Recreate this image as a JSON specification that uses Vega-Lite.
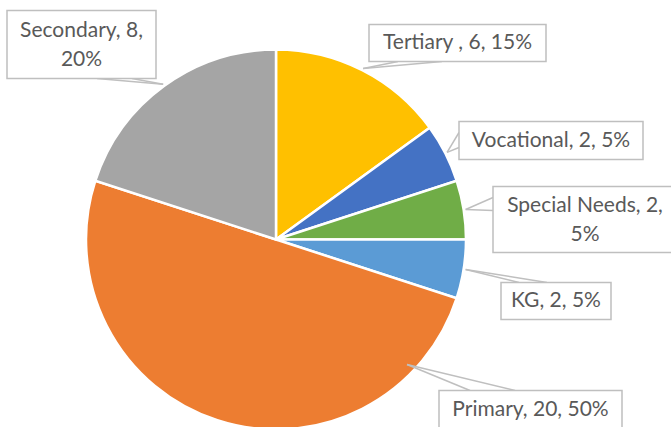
{
  "$schema": "https://vega.github.io/schema/vega-lite/v6.json",
  "width": 671,
  "height": 427,
  "autosize": {"type": "none"},
  "padding": 0,
  "background": "white",
  "config": {"view": {"stroke": null}},
  "data": {
    "values": [
      {"category": "Tertiary ", "count": 6, "label": "Tertiary , 6, 15%"},
      {"category": "Vocational", "count": 2, "label": "Vocational, 2, 5%"},
      {"category": "Special Needs", "count": 2, "label": "Special Needs, 2,\n5%"},
      {"category": "KG", "count": 2, "label": "KG, 2, 5%"},
      {"category": "Primary", "count": 20, "label": "Primary, 20, 50%"},
      {"category": "Secondary", "count": 8, "label": "Secondary, 8,\n20%"}
    ]
  },
  "transform": [
    {"window": [{"op": "row_number", "as": "i"}]},
    {"joinaggregate": [{"op": "sum", "field": "count", "as": "total"}]},
    {"window": [{"op": "sum", "field": "count", "as": "cum"}], "sort": [{"field": "i"}], "frame": [null, 0]},
    {"calculate": "2*PI*(datum.cum - datum.count/2)/datum.total", "as": "mid"},
    {"calculate": "datum.i == 5 ? 131 : 192*sin(datum.mid)", "as": "tx"},
    {"calculate": "datum.i == 5 ? 125 : -192*cos(datum.mid)", "as": "ty"},
    {"calculate": "[93,183,217,225,163,-269][datum.i-1]", "as": "bx0"},
    {"calculate": "[270,367,401,335,346,-120][datum.i-1]", "as": "bx1"},
    {"calculate": "[-215,-118,-53,43,151,-229][datum.i-1]", "as": "by0"},
    {"calculate": "[-178,-80,13,80,190,-161][datum.i-1]", "as": "by1"},
    {"calculate": "[122,183,217,243,194,-179][datum.i-1]", "as": "p1x"},
    {"calculate": "[-178,-107,-42,43,151,-161][datum.i-1]", "as": "p1y"},
    {"calculate": "[166,183,217,271,239,-144][datum.i-1]", "as": "p2x"},
    {"calculate": "[-178,-92,-29,43,151,-161][datum.i-1]", "as": "p2y"},
    {"calculate": "(datum.bx0+datum.bx1)/2", "as": "cx"},
    {"calculate": "(datum.by0+datum.by1)/2 - (indexof(datum.label, '\\n') >= 0 ? 14 : 0)", "as": "cy"}
  ],
  "layer": [
    {
      "mark": {"type": "arc", "outerRadius": 190, "stroke": "white", "strokeWidth": 2.5},
      "encoding": {
        "x": {"datum": 0, "type": "quantitative", "scale": {"domain": [-276, 395], "nice": false, "zero": false}, "axis": null},
        "y": {"datum": 0, "type": "quantitative", "scale": {"domain": [-239.5, 187.5], "nice": false, "zero": false, "reverse": true}, "axis": null},
        "theta": {"field": "count", "type": "quantitative", "stack": true},
        "order": {"field": "i", "type": "quantitative"},
        "color": {
          "field": "category",
          "type": "nominal",
          "scale": {
            "domain": ["Tertiary ", "Vocational", "Special Needs", "KG", "Primary", "Secondary"],
            "range": ["#FFC000", "#4472C4", "#70AD47", "#5B9BD5", "#ED7D31", "#A5A5A5"]
          },
          "legend": null
        }
      }
    },
    {
      "mark": {"type": "rule", "stroke": "#BFBFBF", "strokeWidth": 1.5},
      "encoding": {
        "x": {"field": "tx", "type": "quantitative", "scale": {"domain": [-276, 395], "nice": false, "zero": false}, "axis": null},
        "y": {"field": "ty", "type": "quantitative", "scale": {"domain": [-239.5, 187.5], "nice": false, "zero": false, "reverse": true}, "axis": null},
        "x2": {"field": "p1x"},
        "y2": {"field": "p1y"}
      }
    },
    {
      "mark": {"type": "rule", "stroke": "#BFBFBF", "strokeWidth": 1.5},
      "encoding": {
        "x": {"field": "tx", "type": "quantitative", "scale": {"domain": [-276, 395], "nice": false, "zero": false}, "axis": null},
        "y": {"field": "ty", "type": "quantitative", "scale": {"domain": [-239.5, 187.5], "nice": false, "zero": false, "reverse": true}, "axis": null},
        "x2": {"field": "p2x"},
        "y2": {"field": "p2y"}
      }
    },
    {
      "mark": {"type": "rect", "fill": "white", "stroke": "#BFBFBF", "strokeWidth": 1.5},
      "encoding": {
        "x": {"field": "bx0", "type": "quantitative", "scale": {"domain": [-276, 395], "nice": false, "zero": false}, "axis": null},
        "x2": {"field": "bx1"},
        "y": {"field": "by0", "type": "quantitative", "scale": {"domain": [-239.5, 187.5], "nice": false, "zero": false, "reverse": true}, "axis": null},
        "y2": {"field": "by1"}
      }
    },
    {
      "mark": {"type": "text", "font": "Lato", "fontSize": 21, "color": "#595959", "align": "center", "baseline": "middle", "lineBreak": "\n", "lineHeight": 29},
      "encoding": {
        "x": {"field": "cx", "type": "quantitative", "scale": {"domain": [-276, 395], "nice": false, "zero": false}, "axis": null},
        "y": {"field": "cy", "type": "quantitative", "scale": {"domain": [-239.5, 187.5], "nice": false, "zero": false, "reverse": true}, "axis": null},
        "text": {"field": "label"}
      }
    }
  ]
}
